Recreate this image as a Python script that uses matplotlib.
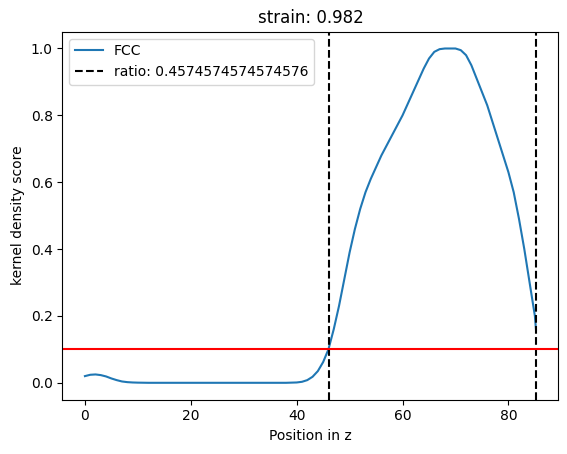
import matplotlib
matplotlib.use("Agg")
import matplotlib.pyplot as plt

# FCC kernel density curve
z = [0, 1, 2, 3, 4, 5, 6, 7, 8, 9, 10, 12, 15, 20, 25, 30, 35, 38, 40, 41, 42,
     43, 44, 45, 46, 47, 48, 49, 50, 51, 52, 53, 54, 55, 56, 58, 60, 62, 63, 64,
     65, 66, 67, 68, 69, 70, 71, 72, 73, 74, 75, 76, 77, 78, 79, 80, 81, 82, 83,
     84, 85, 85.2]
score = [0.020, 0.024, 0.025, 0.023, 0.019, 0.013, 0.008, 0.004, 0.002, 0.001,
         0.0005, 0.0, 0.0, 0.0, 0.0, 0.0, 0.0, 0.0, 0.001, 0.003, 0.008,
         0.018, 0.035, 0.062, 0.10, 0.16, 0.23, 0.31, 0.39, 0.46, 0.52, 0.57,
         0.61, 0.645, 0.68, 0.74, 0.80, 0.87, 0.905, 0.94, 0.97, 0.99, 0.998,
         1.0, 1.0, 1.0, 0.995, 0.98, 0.95, 0.91, 0.87, 0.83, 0.78, 0.73, 0.68,
         0.63, 0.57, 0.49, 0.40, 0.30, 0.20, 0.16]
strain = 0.982
ratio = 0.4574574574574576
cut_lo, cut_hi = 46.2, 85.2
threshold = 0.1

fig, ax = plt.subplots(figsize=(5.67, 4.54), dpi=100)
fig.subplots_adjust(left=0.11, right=0.985, top=0.93, bottom=0.12)

ax.plot(z, score, label="FCC")
ax.axvline(cut_lo, color="k", linestyle="--", label=f"ratio: {ratio}")
ax.axvline(cut_hi, color="k", linestyle="--")
ax.axhline(threshold, color="red")

ax.set_title(f"strain: {strain}")
ax.set_xlabel("Position in z")
ax.set_ylabel("kernel density score")
ax.legend(loc="upper left")

plt.savefig("out.png")
